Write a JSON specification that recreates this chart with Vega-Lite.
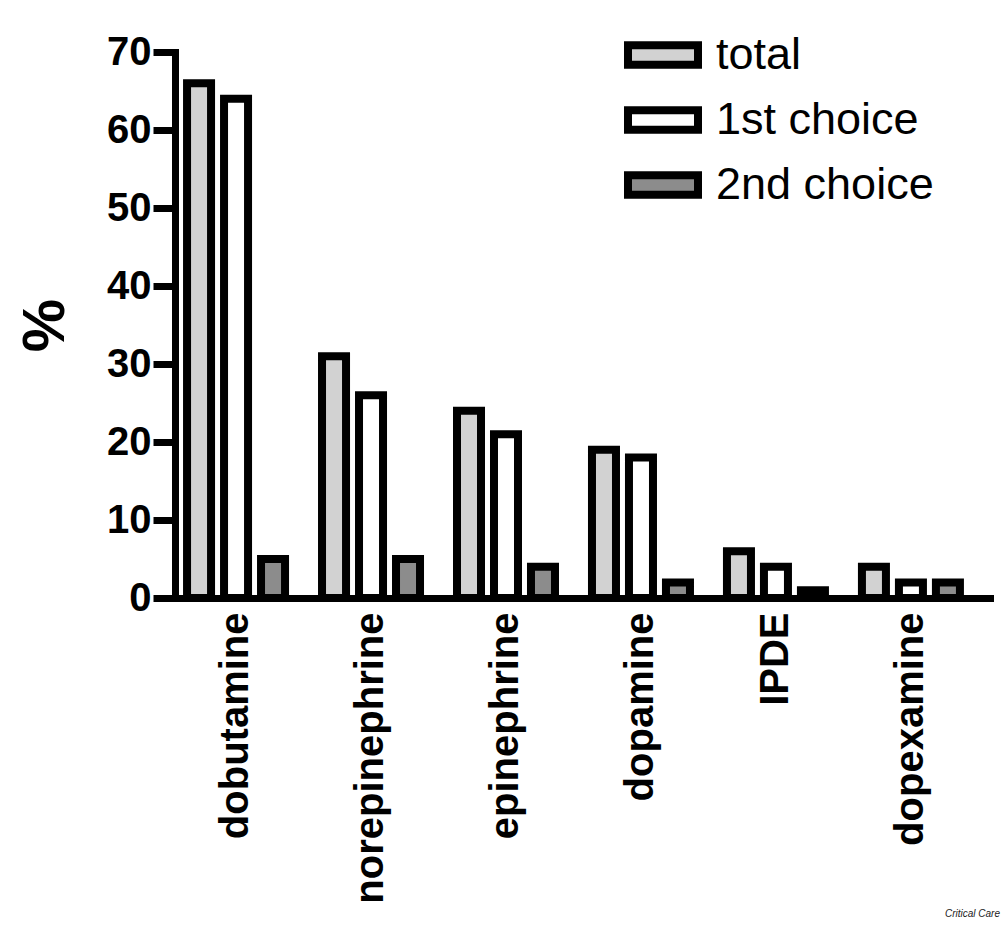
{
  "$schema": "https://vega.github.io/schema/vega-lite/v6.json",
  "width": 815,
  "height": 546,
  "autosize": {"type": "none"},
  "padding": {"left": 175, "top": 52, "right": 14, "bottom": 328},
  "background": "white",
  "title": {
    "text": "Critical Care",
    "orient": "bottom",
    "anchor": "end",
    "fontSize": 10,
    "fontStyle": "italic",
    "fontWeight": "normal",
    "font": "Liberation Sans",
    "color": "#222222",
    "offset": 6,
    "dx": 10
  },
  "data": {
    "values": [
      {"drug": "dobutamine", "series": "total", "value": 66},
      {"drug": "dobutamine", "series": "1st choice", "value": 64},
      {"drug": "dobutamine", "series": "2nd choice", "value": 5},
      {"drug": "norepinephrine", "series": "total", "value": 31},
      {"drug": "norepinephrine", "series": "1st choice", "value": 26},
      {"drug": "norepinephrine", "series": "2nd choice", "value": 5},
      {"drug": "epinephrine", "series": "total", "value": 24},
      {"drug": "epinephrine", "series": "1st choice", "value": 21},
      {"drug": "epinephrine", "series": "2nd choice", "value": 4},
      {"drug": "dopamine", "series": "total", "value": 19},
      {"drug": "dopamine", "series": "1st choice", "value": 18},
      {"drug": "dopamine", "series": "2nd choice", "value": 2},
      {"drug": "IPDE", "series": "total", "value": 6},
      {"drug": "IPDE", "series": "1st choice", "value": 4},
      {"drug": "IPDE", "series": "2nd choice", "value": 1},
      {"drug": "dopexamine", "series": "total", "value": 4},
      {"drug": "dopexamine", "series": "1st choice", "value": 2},
      {"drug": "dopexamine", "series": "2nd choice", "value": 2}
    ]
  },
  "mark": {"type": "bar", "stroke": "black", "strokeWidth": 8, "strokeJoin": "miter"},
  "encoding": {
    "x": {
      "field": "drug",
      "type": "nominal",
      "sort": null,
      "scale": {"paddingInner": 0.274, "paddingOuter": 0.156, "align": 0.286},
      "axis": {
        "title": null,
        "labelAngle": -90,
        "labelFontSize": 40,
        "labelFontWeight": "bold",
        "labelFont": "Liberation Sans",
        "labelColor": "black",
        "labelPadding": 14,
        "labelLimit": 400,
        "ticks": false,
        "tickSize": 0,
        "domainColor": "black",
        "domainWidth": 7,
        "domainCap": "square"
      }
    },
    "xOffset": {
      "field": "series",
      "type": "nominal",
      "sort": ["total", "1st choice", "2nd choice"],
      "scale": {"paddingInner": 0.351, "paddingOuter": 0}
    },
    "y": {
      "field": "value",
      "type": "quantitative",
      "scale": {"domain": [0, 70], "nice": false},
      "axis": {
        "title": "%",
        "titleFontSize": 60,
        "titleFontWeight": "bold",
        "titleFont": "Liberation Sans",
        "titleColor": "black",
        "titlePadding": 30,
        "values": [0, 10, 20, 30, 40, 50, 60, 70],
        "grid": false,
        "labelFontSize": 40,
        "labelFontWeight": "bold",
        "labelFont": "Liberation Sans",
        "labelColor": "black",
        "labelPadding": 2,
        "tickSize": 22,
        "tickWidth": 7,
        "tickColor": "black",
        "domainColor": "black",
        "domainWidth": 7,
        "domainCap": "square"
      }
    },
    "fill": {
      "field": "series",
      "type": "nominal",
      "sort": ["total", "1st choice", "2nd choice"],
      "scale": {"domain": ["total", "1st choice", "2nd choice"], "range": ["#d2d2d2", "#ffffff", "#8c8c8c"]},
      "legend": {
        "title": null,
        "orient": "none",
        "legendX": 449,
        "legendY": -36,
        "symbolType": "M-1,-0.28H1V0.28H-1Z",
        "symbolSize": 4900,
        "symbolStrokeWidth": 8,
        "symbolStrokeColor": "black",
        "symbolOpacity": 1,
        "labelFontSize": 45,
        "labelFont": "Liberation Sans",
        "labelColor": "black",
        "labelLimit": 400,
        "labelOffset": 14,
        "rowPadding": -2,
        "encode": {"symbols": {"update": {"stroke": {"value": "black"}, "strokeWidth": {"value": 8}}}}
      }
    }
  },
  "config": {"view": {"stroke": null}}
}
